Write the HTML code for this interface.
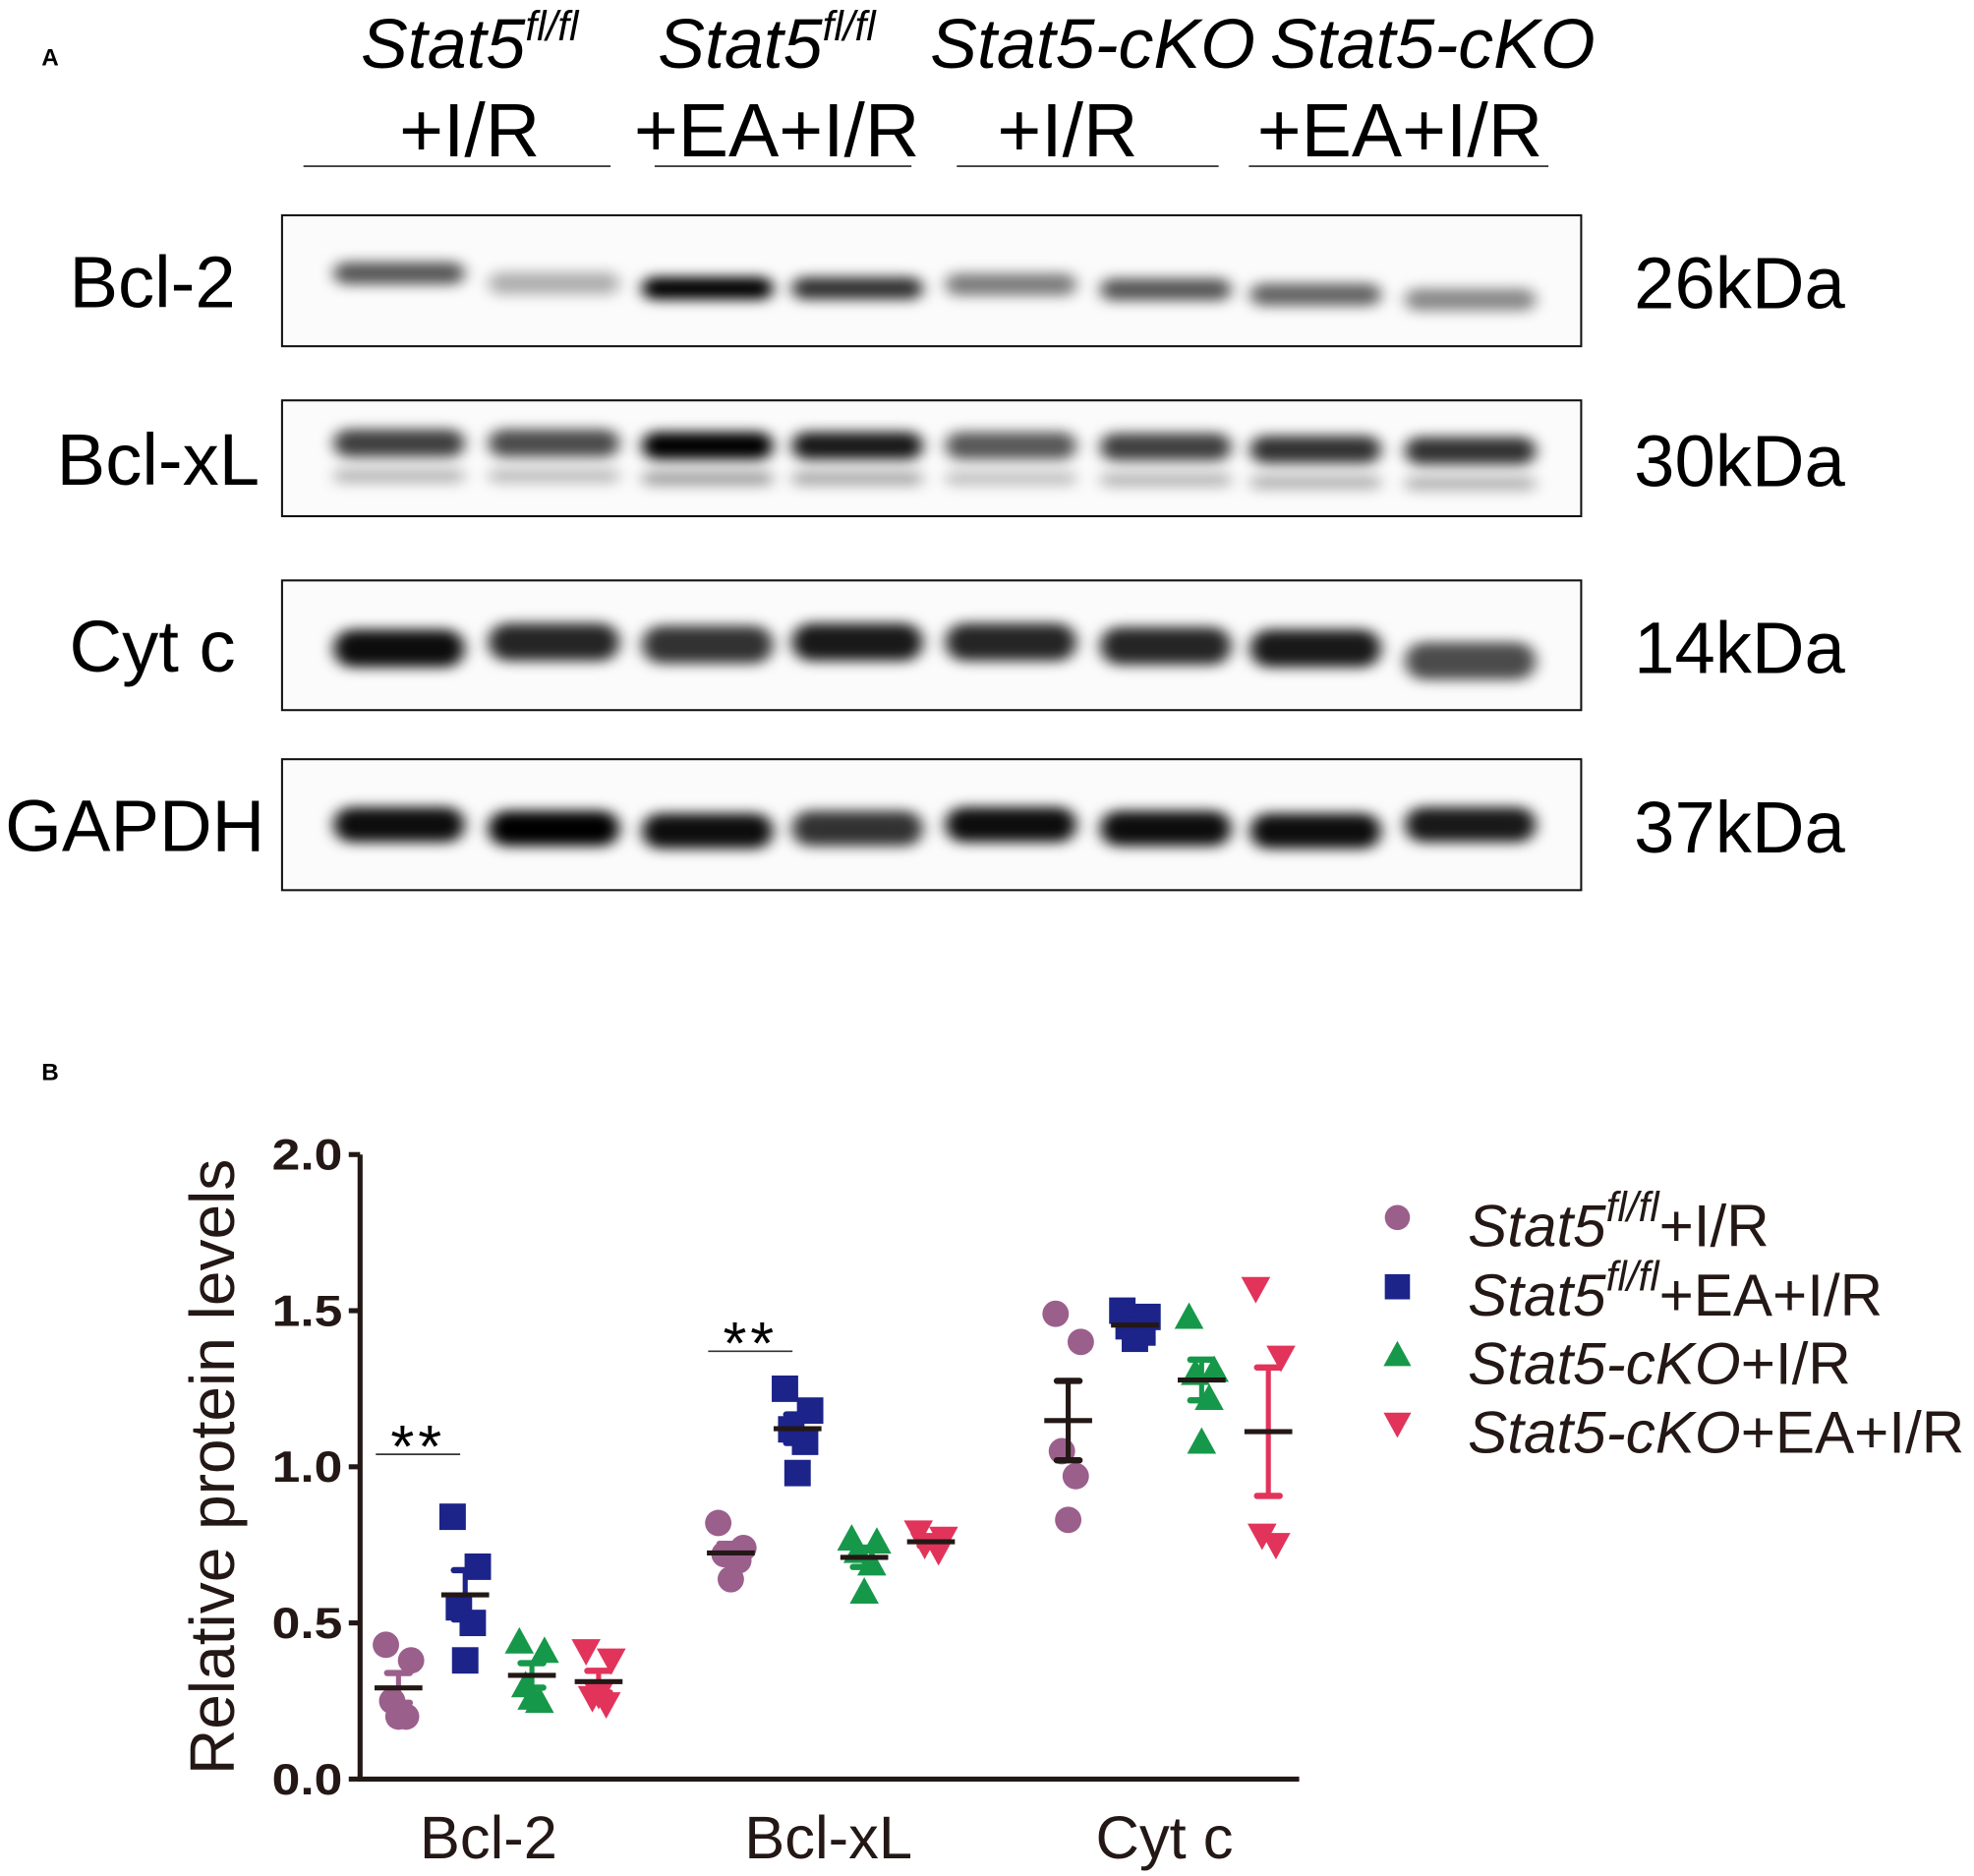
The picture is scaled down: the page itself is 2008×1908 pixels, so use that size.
<!DOCTYPE html>
<html><head><meta charset="utf-8"><style>
html,body{margin:0;padding:0;background:#fff}
svg{display:block}
text{font-family:"Liberation Sans",sans-serif}
</style></head><body>
<svg id="fig" width="2008" height="1908" viewBox="0 0 1568 1490" xmlns="http://www.w3.org/2000/svg">
<defs>
<filter id="blur" x="-30%" y="-150%" width="160%" height="400%"><feGaussianBlur stdDeviation="6 5"/></filter>
</defs>
<text x="33" y="52" font-size="19" font-weight="bold">A</text>
<text x="33" y="858" font-size="19" font-weight="bold">B</text>
<g id="blot"></g>
<g id="chart"></g>
</svg>
<script>
const NS="http://www.w3.org/2000/svg";
function mk(tag,attrs,parent,txt){const e=document.createElementNS(NS,tag);for(const k in attrs)e.setAttribute(k,attrs[k]);if(txt!==undefined)e.textContent=txt;parent.appendChild(e);return e;}

// ---------- Panel A: blot ----------
const blot=document.getElementById('blot');
const laneX=[317,440,562,681,803,926,1045,1168];
const rows=[
 {name:'Bcl-2',kda:'26kDa',top:171,bot:275,bandY:[217,225,229,229,226,230,234,238],inten:[0.65,0.3,1,0.8,0.5,0.65,0.6,0.45],h:18},
 {name:'Bcl-xL',kda:'30kDa',top:318,bot:410,bandY:[352,352,354,354,354,355,357,358],inten:[0.75,0.7,1,0.9,0.65,0.75,0.8,0.8],h:22,sub:true},
 {name:'Cyt c',kda:'14kDa',top:461,bot:564,bandY:[515,510,512,510,510,513,515,525],inten:[0.95,0.85,0.8,0.9,0.85,0.85,0.9,0.7],h:30},
 {name:'GAPDH',kda:'37kDa',top:603,bot:707,bandY:[655,658,660,658,655,658,660,655],inten:[0.95,1,0.95,0.8,0.95,0.95,0.95,0.9],h:28}
];
rows.forEach(r=>{
  const g=mk('g',{},blot);
  
  
  mk('rect',{x:224,y:r.top,width:1032,height:r.bot-r.top,fill:'#fbfbfb',stroke:'#111','stroke-width':1.6},g);
  const bg=mk('g',{filter:'url(#blur)'},g);
  laneX.forEach((x,i)=>{
    mk('rect',{x:x-52,y:r.bandY[i]-r.h/2,width:104,height:r.h,rx:r.h/2,fill:'#000','fill-opacity':r.inten[i]},bg);
    if(r.sub) mk('rect',{x:x-52,y:r.bandY[i]+20,width:104,height:12,rx:6,fill:'#000','fill-opacity':r.inten[i]*0.35},bg);
  });
  const lt=mk('text',{x:r.name==='GAPDH'?4:(r.name==='Bcl-xL'?45:55),y:(r.top+r.bot)/2+21,'font-size':58},g,r.name);
  
  
  const kt=mk('text',{x:1298,y:(r.top+r.bot)/2+22,'font-size':58},g,r.kda);
  
  
});
const hdr=[
 {x:373,l1:['Stat5','fl/fl'],l2:'+I/R',line:[241,485]},
 {x:617,l1:['Stat5','fl/fl'],l2:'+EA+I/R',line:[520,724]},
 {x:848,l1:['Stat5-cKO',''],l2:'+I/R',line:[760,968]},
 {x:1138,l1:['Stat5-cKO',''],l2:'+EA+I/R',line:[992,1230]}
];
hdr.forEach((h,i)=>{
  const g=mk('g',{},blot);
  
  
  const t=mk('text',{x:i==1?h.x-8:(i==2?h.x+20:h.x),y:54,'font-size':56,'text-anchor':'middle','font-style':'italic'},g);
  mk('tspan',{},t,h.l1[0]);
  if(h.l1[1]) mk('tspan',{'font-size':33,dy:-22},t,h.l1[1]);
  mk('text',{x:i==3?h.x-26:h.x,y:124,'font-size':60,'text-anchor':'middle'},g,h.l2);
  mk('line',{x1:h.line[0],x2:h.line[1],y1:132,y2:132,stroke:'#222','stroke-width':1.3},g);
});

// ---------- Panel B: chart data ----------
const categories=['Bcl-2','Bcl-xL','Cyt c'];
const seriesNames=['Stat5fl/fl+I/R','Stat5fl/fl+EA+I/R','Stat5-cKO+I/R','Stat5-cKO+EA+I/R'];
const yTicks=[0.0,0.5,1.0,1.5,2.0];
const tickLabels=['0.0','0.5','1.0','1.5','2.0'];
const purpleVals=[[0.43,0.38,0.25,0.20,0.20],[0.82,0.74,0.72,0.70,0.64],[1.49,1.40,1.05,0.97,0.83]];
const blueVals=[[0.84,0.68,0.55,0.50,0.38],[1.25,1.18,1.12,1.08,0.98],[1.50,1.48,1.45,1.43,1.41]];
const greenVals=[[0.44,0.41,0.30,0.25,0.26],[0.77,0.76,0.73,0.69,0.60],[1.48,1.31,1.30,1.22,1.08]];
const redVals=[[0.41,0.38,0.26,0.24,0.27],[0.79,0.77,0.75,0.73],[1.57,1.35,0.78,0.75]];
const sig=[{cat:0,y:1.04,label:'**'},{cat:1,y:1.37,label:'**'}];

const series=[purpleVals,blueVals,greenVals,redVals];
const colors=['#9b5f8c','#1c2389','#16984a','#e2335a'];
const shapes=['circle','square','tri','tridown'];
const jitter=[-10,10,-5,6,0];

const chart=document.getElementById('chart');
const X0=286,X1=1032,Y0=1413,Y1=917;
const catCenter=[396,660,928];
const spacing=53;
const yS=v=>Y0-(v-0)/(2-0)*(Y0-Y1);
const xS=(c,s)=>catCenter[c]+(s-1.5)*spacing;

const ax=mk('g',{},chart);


mk('line',{x1:X0,x2:X0,y1:Y1,y2:Y0+2,stroke:'#231815','stroke-width':4},ax);
mk('line',{x1:X0-2,x2:X1,y1:Y0,y2:Y0,stroke:'#231815','stroke-width':4},ax);
yTicks.forEach((v,i)=>{
  mk('line',{x1:X0-9,x2:X0,y1:yS(v),y2:yS(v),stroke:'#231815','stroke-width':4},ax);
  const t=mk('text',{x:X0-70,y:yS(v)+12,'font-size':35,'font-weight':'bold',textLength:56,lengthAdjust:'spacingAndGlyphs',fill:'#231815'},ax,tickLabels[i]);
  
  
});
const catLabelX=[388,658,925];
categories.forEach((c,i)=>{
  const t=mk('text',{x:catLabelX[i],y:1476,'font-size':48,'text-anchor':'middle',fill:'#231815'},ax,c);
  
  
});
const yt=mk('text',{x:0,y:0,'font-size':50,'text-anchor':'middle',fill:'#231815',transform:'translate(186,1165) rotate(-90)'},ax,'Relative protein levels');



function marker(parent,shape,x,y,col,sz){
  if(shape==='circle') return mk('circle',{cx:x,cy:y,r:sz*0.5,fill:col},parent);
  if(shape==='square') return mk('rect',{x:x-sz/2,y:y-sz/2,width:sz,height:sz,fill:col},parent);
  if(shape==='tri') return mk('polygon',{points:`${x},${y-sz*0.55} ${x-sz*0.55},${y+sz*0.45} ${x+sz*0.55},${y+sz*0.45}`,fill:col},parent);
  return mk('polygon',{points:`${x},${y+sz*0.55} ${x-sz*0.55},${y-sz*0.45} ${x+sz*0.55},${y-sz*0.45}`,fill:col},parent);
}

series.forEach((vals,s)=>{
  const g=mk('g',{},chart);
  
  
  vals.forEach((pts,c)=>{
    const cx=xS(c,s);
    pts.forEach((v,i)=>{
      const m=marker(g,shapes[s],cx+jitter[i%jitter.length],yS(v),colors[s],21);
      
      
    });
    const n=pts.length, mean=pts.reduce((a,b)=>a+b,0)/n;
    const sd=Math.sqrt(pts.reduce((a,b)=>a+(b-mean)*(b-mean),0)/(n-1));
    const sem=sd/Math.sqrt(n);
    const ec=(s===0&&c===2)?'#231815':colors[s];
    const eb=mk('g',{},g);
    
    
    mk('line',{x1:cx,x2:cx,y1:yS(mean+sem),y2:yS(mean-sem),stroke:ec,'stroke-width':4},eb);
    [mean+sem,mean-sem].forEach(v=>mk('line',{x1:cx-9,x2:cx+9,y1:yS(v),y2:yS(v),stroke:ec,'stroke-width':5,'stroke-linecap':'round'},eb));
    const ml=mk('line',{x1:cx-19,x2:cx+19,y1:yS(mean),y2:yS(mean),stroke:'#231815','stroke-width':4},g);
    
    
  });
});

sig.forEach(o=>{
  const g=mk('g',{},chart);
  
  
  const xa=xS(o.cat,0)-18,xb=xS(o.cat,1)-4;
  mk('line',{x1:xa,x2:xb,y1:yS(o.y),y2:yS(o.y),stroke:'#333','stroke-width':1.3},g);
  mk('text',{x:(xa+xb)/2,y:yS(o.y)+10,'font-size':48,'text-anchor':'middle','letter-spacing':'3'},g,o.label);
});

const legY=[967,1022,1076,1131];
const legParts=[['Stat5','fl/fl','+I/R'],['Stat5','fl/fl','+EA+I/R'],['Stat5-cKO','','+I/R'],['Stat5-cKO','','+EA+I/R']];
seriesNames.forEach((nm,i)=>{
  const g=mk('g',{},chart);
  
  
  marker(g,shapes[i],1110,legY[i],colors[i],20);
  const t=mk('text',{x:1166,y:legY[i]+23,'font-size':47,fill:'#231815'},g);
  mk('tspan',{'font-style':'italic'},t,legParts[i][0]);
  if(legParts[i][1]){mk('tspan',{'font-style':'italic','font-size':33,dy:-20},t,legParts[i][1]);mk('tspan',{dy:20},t,legParts[i][2]);}
  else mk('tspan',{},t,legParts[i][2]);
});
</script>
</body></html>
